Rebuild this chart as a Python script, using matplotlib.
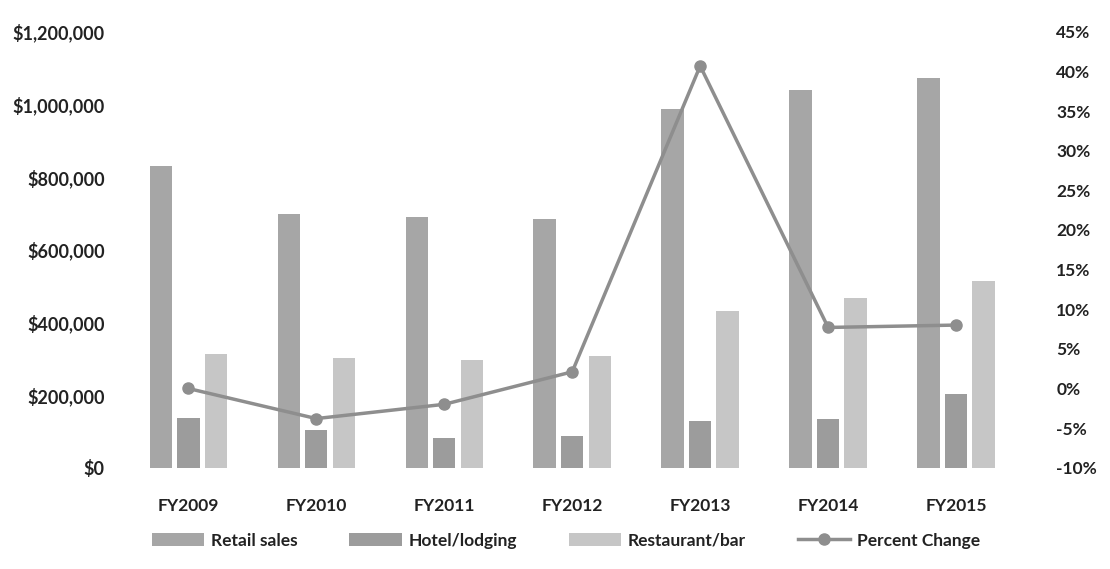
import matplotlib.pyplot as plt
import numpy as np
from matplotlib.ticker import FuncFormatter

# values
years = ['FY2009', 'FY2010', 'FY2011', 'FY2012', 'FY2013', 'FY2014', 'FY2015']
retail = [830000, 699000, 690000, 686000, 988000, 1039000, 1073000]
hotel = [137000, 105000, 82000, 86000, 129000, 133000, 203000]
restaurant = [313000, 303000, 297000, 307000, 432000, 466000, 514000]
pct_change = [0.0, -3.8, -2.0, 2.1, 40.7, 7.7, 8.0]

plt.rcParams['font.family'] = ['Lato', 'DejaVu Sans']

fig = plt.figure(figsize=(11.1, 5.69), dpi=100)
ax = fig.add_axes([0.112, 0.178, 0.807, 0.766])
ax2 = ax.twinx()

x = np.arange(len(years))
w = 0.175
step = 0.215
ax.bar(x - step, retail, w, color='#a6a6a6', label='Retail sales')
ax.bar(x, hotel, w, color='#9c9c9c', label='Hotel/lodging')
ax.bar(x + step, restaurant, w, color='#c6c6c6', label='Restaurant/bar')

ax2.plot(x, pct_change, color='#8e8e8e', lw=2.5, marker='o', ms=8,
         label='Percent Change')

ax.set_xlim(-0.5, len(years) - 0.5)
ax.set_ylim(0, 1200000)
ax.set_yticks(np.arange(0, 1200001, 200000))
ax.yaxis.set_major_formatter(FuncFormatter(lambda v, p: '${:,.0f}'.format(v)))
ax2.set_ylim(-10, 45)
ax2.set_yticks(np.arange(-10, 46, 5))
ax2.yaxis.set_major_formatter(FuncFormatter(lambda v, p: '{:.0f}%'.format(v)))

ax.set_xticks(x)
ax.set_xticklabels(years)

for a in (ax, ax2):
    for s in a.spines.values():
        s.set_visible(False)
    a.tick_params(length=0, labelsize=12.5, colors='#222222')
ax.tick_params(axis='y', labelsize=13, pad=14)
ax2.tick_params(axis='y', pad=26)
ax.tick_params(axis='x', pad=22)
for lbl in ax.get_xticklabels() + ax.get_yticklabels() + ax2.get_yticklabels():
    lbl.set_fontweight('bold')

h1, l1 = ax.get_legend_handles_labels()
h2, l2 = ax2.get_legend_handles_labels()
leg = fig.legend(h1 + h2, l1 + l2, loc='center', bbox_to_anchor=(0.51, 0.05),
                 ncol=4, frameon=False, fontsize=12.5, handlelength=3,
                 columnspacing=3, handletextpad=0.4)
for t in leg.get_texts():
    t.set_color('#222222')
    t.set_fontweight('bold')

fig.savefig('out.png', dpi=100)
